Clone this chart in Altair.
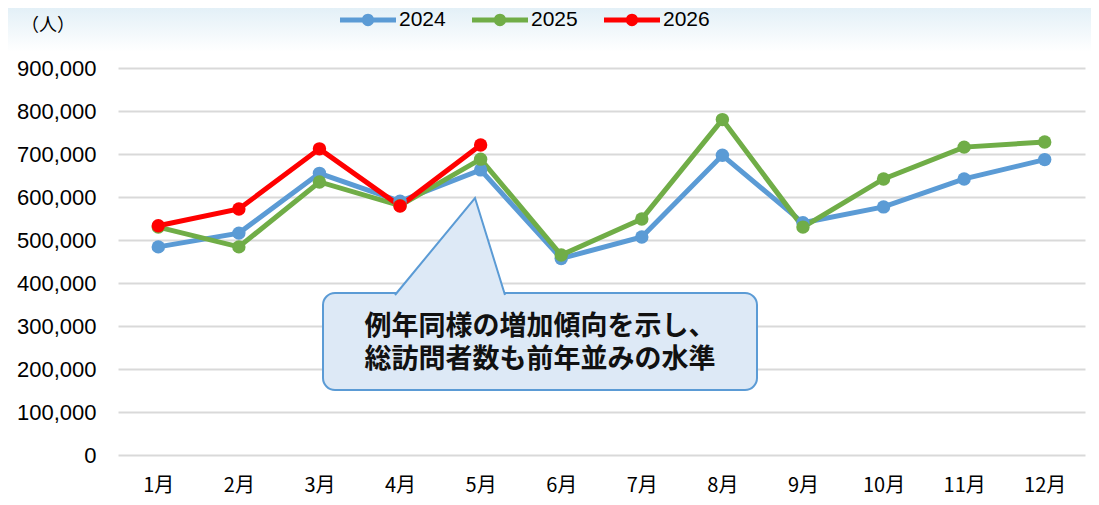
import altair as alt
import pandas as pd

months = ["1月", "2月", "3月", "4月", "5月", "6月", "7月", "8月", "9月", "10月", "11月", "12月"]
years = ["2024", "2025", "2026"]
colors = ["#5b9bd5", "#70ad47", "#ff0000"]
v2024 = [484000, 516000, 655000, 590000, 663000, 457000, 507000, 697000, 540000, 577000, 642000, 687000]
v2025 = [530000, 484000, 635000, 580000, 688000, 465000, 549000, 780000, 530000, 642000, 716000, 728000]
v2026 = [533000, 572000, 712000, 579000, 721000]
y_ticks = [0, 100000, 200000, 300000, 400000, 500000, 600000, 700000, 800000, 900000]
unit_label = "（人）"
note_lines = ["例年同様の増加傾向を示し、", "総訪問者数も前年並みの水準"]

rows = []
for yr, vals in zip(years, [v2024, v2025, v2026]):
    for m, v in zip(months, vals):
        rows.append({"month": m, "year": yr, "visitors": v})
df = pd.DataFrame(rows)
one = pd.DataFrame({"k": [0]})

W, H = 967, 387
JP = "Noto Sans CJK JP"

x_enc = alt.X("month:N", sort=months,
              scale=alt.Scale(domain=months, padding=0.5),
              axis=alt.Axis(title=None, labelAngle=0, ticks=False, domain=False,
                            labelPadding=20, labelFontSize=20, labelFont=JP,
                            labelColor="#000000"))
y_enc = alt.Y("visitors:Q",
              scale=alt.Scale(domain=[0, 900000], nice=False),
              axis=alt.Axis(values=y_ticks, format=",d", ticks=False, domain=False,
                            labelPadding=22, labelFontSize=22, labelFont="Liberation Sans",
                            labelColor="#000000", gridColor="#d9d9d9", gridWidth=2,
                            title=None))
color_scale = alt.Scale(domain=years, range=colors)

legend_path = ("M-1,-0.085L1,-0.085L1,0.085L-1,0.085Z"
               "M0.22,0A0.22,0.22 0 1,1 -0.22,0A0.22,0.22 0 1,1 0.22,0Z")

bg = alt.Chart(one).mark_rect(
    color=alt.Gradient(gradient="linear", x1=0, x2=0, y1=0, y2=1,
                       stops=[alt.GradientStop(color="#e3f0f7", offset=0),
                              alt.GradientStop(color="#ffffff", offset=1)])
).encode(x=alt.value(-110), x2=alt.value(W + 6), y=alt.value(-60), y2=alt.value(-16))

unit = alt.Chart(one).mark_text(
    fontSize=18, font=JP, align="center", baseline="middle", color="#000000"
).encode(text=alt.value(unit_label), x=alt.value(-70), y=alt.value(-42))

lines = alt.Chart(df).mark_line(strokeWidth=5).encode(
    x=x_enc, y=y_enc,
    color=alt.Color("year:N", scale=color_scale, legend=None),
)

points = alt.Chart(df).mark_point(filled=True, size=180, opacity=1).encode(
    x=x_enc, y=y_enc,
    color=alt.Color("year:N", scale=color_scale,
                    legend=alt.Legend(title=None, orient="none", legendX=222, legendY=-76,
                                      direction="horizontal", symbolType=legend_path,
                                      symbolSize=3136, symbolStrokeWidth=0, symbolOpacity=1,
                                      labelFontSize=21, labelFont="Liberation Sans",
                                      labelColor="#000000", labelOffset=3,
                                      columnPadding=26)),
)

box = alt.Chart(one).mark_rect(
    cornerRadius=12, fill="#dde9f6", stroke="#5b9bd5", strokeWidth=2
).encode(x=alt.value(205), x2=alt.value(639), y=alt.value(225), y2=alt.value(322))

pointer = alt.Chart(one).mark_point(
    shape="M-0.55,0.02L0.25,-0.95L0.55,0.02", size=40000, filled=True,
    fill="#dde9f6", stroke="#5b9bd5", strokeWidth=2, opacity=1
).encode(x=alt.value(332), y=alt.value(225))

note_layers = []
for i, line in enumerate(note_lines):
    note_layers.append(alt.Chart(one).mark_text(
        fontSize=27, fontWeight="bold", font=JP, align="center", baseline="middle",
        color="#111111"
    ).encode(text=alt.value(line), x=alt.value(422), y=alt.value(259 + 33 * i)))

chart = alt.layer(bg, unit, lines, points, box, pointer, *note_layers).resolve_legend(
    color="independent"
).properties(
    width=W, height=H,
    padding={"left": 110, "top": 60, "right": 6, "bottom": 46},
    autosize=alt.AutoSizeParams(type="none"),
).configure_view(stroke=None)

chart.save("out.html", embed_options={"renderer": "svg", "actions": False})
